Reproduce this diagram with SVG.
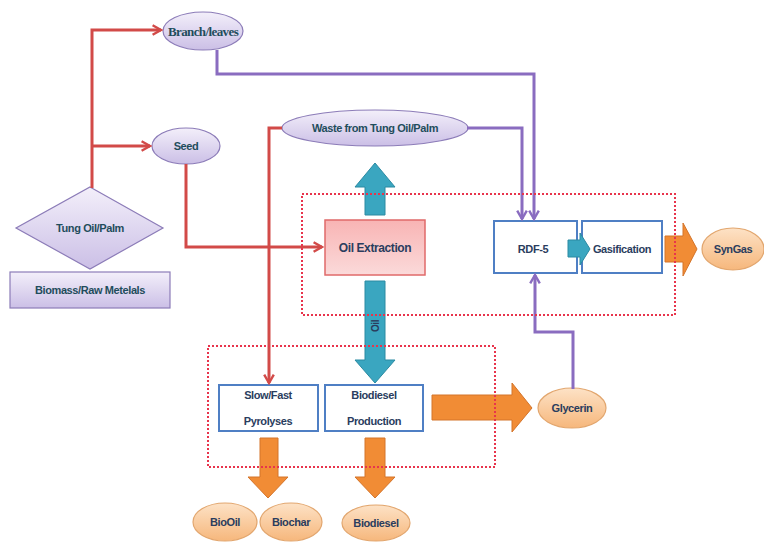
<svg xmlns="http://www.w3.org/2000/svg" width="764" height="542" viewBox="0 0 764 542">
<defs>
<linearGradient id="lav" x1="0" y1="0" x2="0" y2="1"><stop offset="0" stop-color="#f3effa"/><stop offset="1" stop-color="#cbbfe6"/></linearGradient>
<linearGradient id="org" x1="0" y1="0" x2="0" y2="1"><stop offset="0" stop-color="#fde2c6"/><stop offset="1" stop-color="#f6b77c"/></linearGradient>
<linearGradient id="pink" x1="0" y1="0" x2="0" y2="1"><stop offset="0" stop-color="#f8b4b4"/><stop offset="1" stop-color="#fbdada"/></linearGradient>
<marker id="ar" viewBox="0 0 10 10" refX="8" refY="5" markerWidth="4" markerHeight="4" orient="auto" markerUnits="strokeWidth"><path d="M1,1 L8,5 L1,9" fill="none" stroke="#d24a48" stroke-width="2"/></marker>
<marker id="ap" viewBox="0 0 10 10" refX="8" refY="5" markerWidth="4" markerHeight="4" orient="auto" markerUnits="strokeWidth"><path d="M1,1 L8,5 L1,9" fill="none" stroke="#8a6cc0" stroke-width="2"/></marker>
</defs>
<style>
.red{fill:none;stroke:#d24a48;stroke-width:3;marker-end:url(#ar)}
.pur{fill:none;stroke:#8a6cc0;stroke-width:3;marker-end:url(#ap)}
.lav{fill:url(#lav);stroke:#8c7cb8;stroke-width:1.2}
.orgE{fill:url(#org);stroke:#e2a66e;stroke-width:1.2}
.box{fill:#fff;stroke:#4f7fc4;stroke-width:2}
.teal{fill:#3aa6c0;stroke:#2b8aa2;stroke-width:1}
.orange{fill:#f18c35;stroke:#d4742a;stroke-width:1}
.dot{fill:none;stroke:#e8344c;stroke-width:2;stroke-dasharray:2 2}
.t{font-family:"Liberation Sans",Arial,sans-serif;font-weight:bold;font-size:11px;fill:#1f4d5c;text-anchor:middle;letter-spacing:-0.4px}
.tb{font-family:"Liberation Sans",Arial,sans-serif;font-weight:bold;font-size:11px;fill:#2a3d5e;text-anchor:middle;letter-spacing:-0.4px}
.ts{font-family:"Liberation Serif","Times New Roman",serif;font-weight:bold;font-size:13px;fill:#1f4d5c;text-anchor:middle;letter-spacing:-0.6px}
</style>
<g id="branch-leaves"><ellipse class="lav" cx="203" cy="31" rx="40" ry="19"/><text class="ts" x="203" y="36">Branch/leaves</text></g>
<g id="seed"><ellipse class="lav" cx="186" cy="146" rx="34" ry="18"/><text class="t" x="186" y="150">Seed</text></g>
<g id="tung-oil-palm"><polygon class="lav" points="90,187 163,228 90,269 16,228"/><text class="t" x="90" y="232">Tung Oil/Palm</text></g>
<g id="biomass"><rect class="lav" x="10" y="272" width="160" height="36"/><text class="t" x="90" y="294">Biomass/Raw Metelals</text></g>
<g id="waste"><ellipse class="lav" cx="375" cy="128" rx="93" ry="18"/><text class="t" x="375" y="132">Waste from Tung Oil/Palm</text></g>
<g id="oil-extraction"><rect x="325" y="220" width="100" height="55" fill="url(#pink)" stroke="#e06a6a" stroke-width="1.5"/><text class="tb" x="375" y="252" style="font-size:12px">Oil Extraction</text></g>
<g id="rdf5"><rect class="box" x="494" y="221" width="83" height="52"/><text class="tb" x="533" y="253">RDF-5</text></g>
<g id="gasification"><rect class="box" x="582" y="221" width="80" height="52"/><text class="tb" x="622" y="253">Gasification</text></g>
<g id="syngas"><ellipse class="orgE" cx="733" cy="249" rx="31" ry="21"/><text class="tb" x="733" y="253">SynGas</text></g>
<g id="pyrolyses"><rect class="box" x="219" y="385" width="99" height="46"/><text class="tb" x="268" y="399">Slow/Fast</text><text class="tb" x="268" y="425">Pyrolyses</text></g>
<g id="biodiesel-production"><rect class="box" x="325" y="385" width="98" height="46"/><text class="tb" x="374" y="399">Biodiesel</text><text class="tb" x="374" y="425">Production</text></g>
<g id="glycerin"><ellipse class="orgE" cx="572" cy="408" rx="34" ry="20"/><text class="tb" x="572" y="412">Glycerin</text></g>
<g id="biooil"><ellipse class="orgE" cx="225" cy="522" rx="32" ry="19"/><text class="tb" x="225" y="526">BioOil</text></g>
<g id="biochar"><ellipse class="orgE" cx="291" cy="522" rx="31" ry="19"/><text class="tb" x="291" y="526">Biochar</text></g>
<g id="biodiesel"><ellipse class="orgE" cx="376" cy="523" rx="34" ry="18"/><text class="tb" x="376" y="527">Biodiesel</text></g>
<g id="connectors">
<path class="red" d="M92,188 V30 H161"/>
<path class="red" d="M92,146 H150"/>
<path class="red" d="M186,164 V247 H322"/>
<path class="red" d="M282,128 H269 V383"/>
<path class="pur" d="M217,50 V74 H534 V219"/>
<path class="pur" d="M467,128 H522 V219"/>
<path class="pur" d="M573,389 V332 H535 V275"/>
<polygon class="teal" points="365,215 365,187 355,187 375,163 395,187 385,187 385,215"/>
<polygon class="teal" points="365,281 385,281 385,360 395,360 375,383 355,360 365,360"/>
<text class="tb" transform="translate(379,326) rotate(-90)" style="font-size:10px">Oil</text>
<polygon class="teal" points="568,240 580,240 580,233 590,249 580,265 580,257 568,257"/>
<polygon class="orange" points="665,236 683,236 683,223 697,249 683,276 683,262 665,262"/>
<polygon class="orange" points="432,395 512,395 512,383 532,408 512,432 512,420 432,420"/>
<polygon class="orange" points="260,438 278,438 278,477 288,477 268,498 248,477 260,477"/>
<polygon class="orange" points="365,438 385,438 385,477 395,477 375,498 355,477 365,477"/>
</g>
<g id="group-extraction"><rect class="dot" x="302" y="194" width="373" height="121"/></g>
<g id="group-production"><rect class="dot" x="208" y="346" width="287" height="121"/></g>
</svg>
